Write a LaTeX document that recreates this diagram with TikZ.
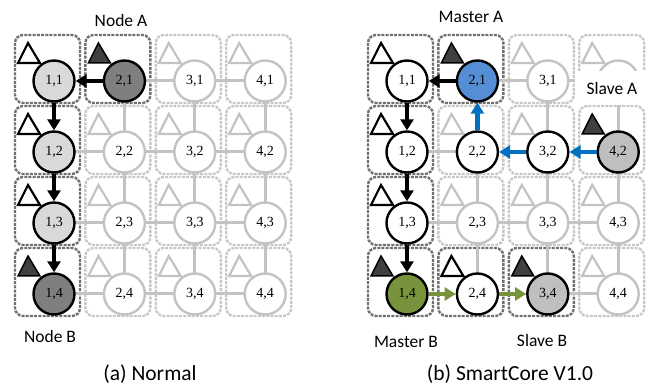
\documentclass[tikz,border=0pt]{standalone}
\usepackage{fontspec}
\setmainfont{Carlito}
\newfontfamily\corefont{Liberation Serif}
\usetikzlibrary{arrows.meta}

\definecolor{meshgray}{HTML}{C3C3C3}
\definecolor{framedark}{HTML}{707070}
\definecolor{framelight}{HTML}{C8C8C8}
\definecolor{fillpale}{HTML}{D9D9D9}
\definecolor{filldark}{HTML}{7F7F7F}
\definecolor{trifill}{HTML}{404040}
\definecolor{masterblue}{HTML}{558ED5}
\definecolor{pathblue}{HTML}{0070C0}
\definecolor{mastergreen}{HTML}{77933C}
\definecolor{slavegray}{HTML}{BFBFBF}

% dashed tile frame and the small triangle of one core
\newcommand\cellframe[3]{%
  \draw[#2, shift={(#1)}] (-39,-46) rectangle (26,22);
  \draw[#3, shift={(#1)}] (-26,-38) -- (-36,-18) -- (-14,-18) -- cycle;}

\begin{document}
\begin{tikzpicture}[x=1pt,y=-1pt,
  frameD/.style={draw=framedark, line width=2.4pt, dash pattern=on 3pt off 1.2pt, rounded corners=8pt},
  frameL/.style={draw=framelight, line width=2.4pt, dash pattern=on 3pt off 1.2pt, rounded corners=8pt},
  triL/.style={draw=meshgray, line width=2.2pt, fill=white},
  triB/.style={draw=black, line width=2.2pt, fill=white},
  triD/.style={draw=black, line width=1.5pt, fill=trifill},
  core/.style={circle, minimum size=41pt, inner sep=0pt, line width=2.4pt,
    font=\corefont\fontsize{14}{14}\selectfont},
  coreL/.style={core, draw=meshgray, fill=white},
  coreW/.style={core, draw=black, fill=white},
  coreP/.style={core, draw=black, fill=fillpale},
  coreD/.style={core, draw=black, fill=filldark},
  coreBlue/.style={core, draw=black, fill=masterblue},
  coreGreen/.style={core, draw=black, fill=mastergreen},
  coreSlave/.style={core, draw=black, fill=slavegray},
  mesh/.style={draw=meshgray, line width=3pt},
  hop/.style={line width=4.5pt, -{Triangle[length=11pt,width=13pt]}},
  hopK/.style={hop, draw=black, fill=black},
  hopB/.style={hop, draw=pathblue, fill=pathblue},
  hopG/.style={hop, draw=mastergreen, fill=mastergreen},
  lab/.style={font=\fontsize{17.5}{18}\selectfont, anchor=base, inner sep=0pt},
  subcaption/.style={font=\fontsize{21.5}{22}\selectfont, anchor=base, inner sep=0pt}]
\useasboundingbox (0,0) rectangle (651,387);

% core centres of the two 4x4 meshes
\foreach \c/\x in {1/54,2/124.4,3/194.8,4/265.2}
  \foreach \r/\y in {1/81,2/152,3/223,4/294}{
    \coordinate (pL\c\r) at (\x,\y);
    \coordinate (pR\c\r) at (\x+353,\y);
  }

% ---- tile frames and triangles: (a) Normal
\cellframe{pL11}{frameD}{triB}
\cellframe{pL21}{frameD}{triD}
\cellframe{pL12}{frameD}{triB}
\cellframe{pL13}{frameD}{triB}
\cellframe{pL14}{frameD}{triD}
\foreach \n in {31,41,22,32,42,23,33,43,24,34,44}
  {\cellframe{pL\n}{frameL}{triL}}

% ---- tile frames and triangles: (b) SmartCore V1.0
\cellframe{pR11}{frameD}{triB}
\cellframe{pR21}{frameD}{triD}
\cellframe{pR12}{frameD}{triB}
\cellframe{pR13}{frameD}{triB}
\cellframe{pR14}{frameD}{triD}
\cellframe{pR24}{frameD}{triB}
\cellframe{pR34}{frameD}{triD}
\cellframe{pR42}{frameL}{triD}
\foreach \n in {31,41,22,32,23,33,43,44}
  {\cellframe{pR\n}{frameL}{triL}}

% ---- idle mesh links
\foreach \a/\b in {21/31,31/41,12/22,22/32,32/42,13/23,23/33,33/43,14/24,24/34,34/44,
                   21/22,22/23,23/24,31/32,32/33,33/34,41/42,42/43,43/44}
  {\draw[mesh] (pL\a) -- (pL\b);}
\foreach \a/\b in {21/31,31/41,12/22,13/23,23/33,33/43,34/44,
                   22/23,23/24,31/32,32/33,33/34,41/42,42/43,43/44}
  {\draw[mesh] (pR\a) -- (pR\b);}

% ---- cores: (a) Normal
\node[coreP] (L11) at (pL11) {1,1};
\node[coreD] (L21) at (pL21) {2,1};
\node[coreP] (L12) at (pL12) {1,2};
\node[coreP] (L13) at (pL13) {1,3};
\node[coreD] (L14) at (pL14) {1,4};
\foreach \c/\r in {3/1,4/1,2/2,3/2,4/2,2/3,3/3,4/3,2/4,3/4,4/4}
  {\node[coreL] (L\c\r) at (pL\c\r) {\c,\r};}

% ---- cores: (b) SmartCore V1.0
\node[coreW] (R11) at (pR11) {1,1};
\node[coreBlue] (R21) at (pR21) {2,1};
\node[coreW] (R12) at (pR12) {1,2};
\node[coreW] (R22) at (pR22) {2,2};
\node[coreW] (R32) at (pR32) {3,2};
\node[coreSlave] (R42) at (pR42) {4,2};
\node[coreW] (R13) at (pR13) {1,3};
\node[coreGreen] (R14) at (pR14) {1,4};
\node[coreW] (R24) at (pR24) {2,4};
\node[coreSlave] (R34) at (pR34) {3,4};
\node[coreL] (R41) at (pR41) {};
\foreach \c/\r in {3/1,2/3,3/3,4/3,4/4}
  {\node[coreL] (R\c\r) at (pR\c\r) {\c,\r};}

% ---- routed paths
\draw[hopK] (L21) -- (L11);
\draw[hopK] (L11) -- (L12);
\draw[hopK] (L12) -- (L13);
\draw[hopK] (L13) -- (L14);

\draw[hopK] (R21) -- (R11);
\draw[hopK] (R11) -- (R12);
\draw[hopK] (R12) -- (R13);
\draw[hopK] (R13) -- (R14);
\draw[hopB] (R42) -- (R32);
\draw[hopB] (R32) -- (R22);
\draw[hopB] (R22) -- (R21);
\draw[hopG] (R14) -- (R24);
\draw[hopG] (R24) -- (R34);

% ---- labels
\node[lab] (nodeA) at (121,27) {Node A};
\node[lab] (nodeB) at (50,343) {Node B};
\node[lab] (masterA) at (471,23) {Master A};
\node[fill=white, minimum width=74pt, minimum height=34pt, inner sep=0pt,
      font=\fontsize{17.5}{18}\selectfont] (slaveA) at (612,88) {Slave A};
\node[lab] (masterB) at (406,348) {Master B};
\node[lab] (slaveB) at (542,347) {Slave B};
\node[subcaption] (capA) at (150,381) {(a) Normal};
\node[subcaption] (capB) at (510,381) {(b) SmartCore V1.0};
\end{tikzpicture}
\end{document}
